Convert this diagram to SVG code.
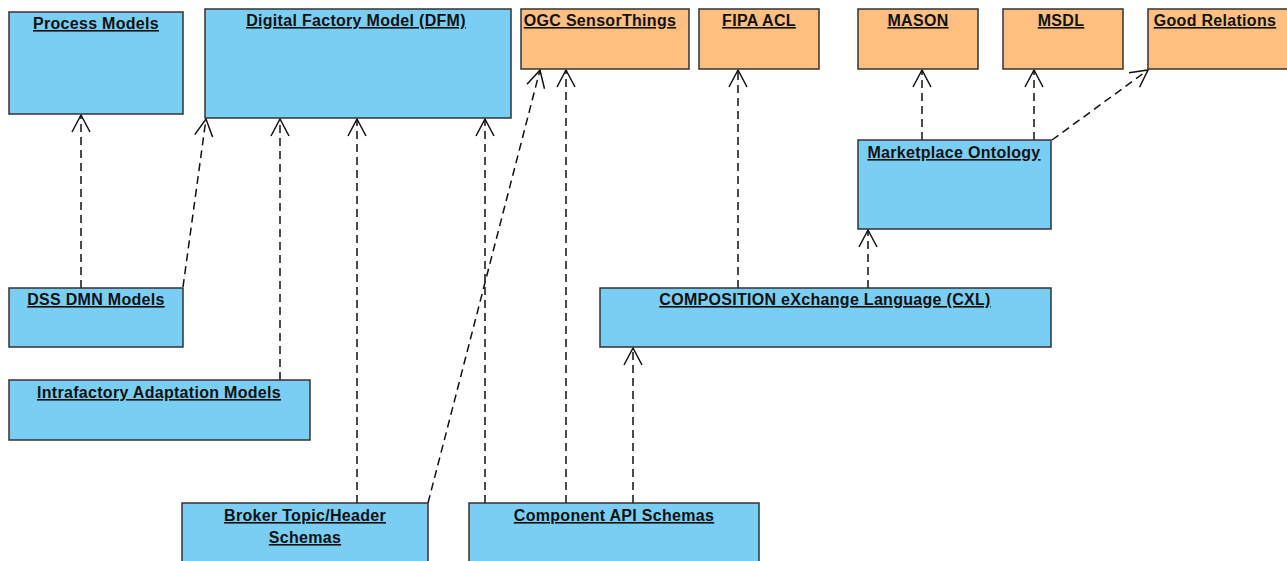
<svg xmlns="http://www.w3.org/2000/svg" width="1287" height="561" viewBox="0 0 1287 561">
  <style>
    .box { stroke: #333333; stroke-width: 1.5; }
    .blue { fill: #7acef4; }
    .orange { fill: #ffbf80; }
    .label { font-family: "Liberation Sans", Arial, sans-serif; font-size: 16px; letter-spacing: 0.3px; font-weight: bold; fill: #111111; text-anchor: middle; text-decoration: underline; }
    .dep { fill: none; stroke: #111111; stroke-width: 1.5; stroke-dasharray: 8 5; }
  </style>
  <defs>
    <marker id="open" viewBox="-20 -11 22 22" refX="0" refY="0" markerWidth="22" markerHeight="22" markerUnits="userSpaceOnUse" orient="auto">
      <path d="M -17 -9 L 0 0 L -17 9" fill="none" stroke="#111111" stroke-width="1.5" stroke-dasharray="none"/>
    </marker>
  </defs>
  <rect width="1287" height="561" fill="#ffffff"/>

  <!-- dependency connectors -->
  <g id="connectors">
    <path class="dep" d="M 81 288 L 81 115" marker-end="url(#open)"/>
    <path class="dep" d="M 183 287 L 206 119" marker-end="url(#open)"/>
    <path class="dep" d="M 280 380 L 280 119" marker-end="url(#open)"/>
    <path class="dep" d="M 357 503 L 357 119" marker-end="url(#open)"/>
    <path class="dep" d="M 428 503 L 540 70" marker-end="url(#open)"/>
    <path class="dep" d="M 485 503 L 485 119" marker-end="url(#open)"/>
    <path class="dep" d="M 566 503 L 566 70" marker-end="url(#open)"/>
    <path class="dep" d="M 633 503 L 633 348" marker-end="url(#open)"/>
    <path class="dep" d="M 738 288 L 738 70" marker-end="url(#open)"/>
    <path class="dep" d="M 868 288 L 868 230" marker-end="url(#open)"/>
    <path class="dep" d="M 922 140 L 922 70" marker-end="url(#open)"/>
    <path class="dep" d="M 1034 140 L 1034 70" marker-end="url(#open)"/>
    <path class="dep" d="M 1052 140 L 1148 70" marker-end="url(#open)"/>
  </g>

  <g id="process-models">
    <rect class="box blue" x="9" y="12" width="174" height="102"/>
    <text class="label" x="96" y="29">Process Models</text>
  </g>
  <g id="dfm">
    <rect class="box blue" x="205" y="9" width="306" height="109"/>
    <text class="label" x="356" y="26">Digital Factory Model (DFM)</text>
  </g>
  <g id="ogc-sensorthings">
    <rect class="box orange" x="521" y="9" width="168" height="60"/>
    <text class="label" x="600" y="26">OGC SensorThings</text>
  </g>
  <g id="fipa-acl">
    <rect class="box orange" x="699" y="9" width="120" height="60"/>
    <text class="label" x="759" y="26">FIPA ACL</text>
  </g>
  <g id="mason">
    <rect class="box orange" x="858" y="9" width="120" height="60"/>
    <text class="label" x="918" y="26">MASON</text>
  </g>
  <g id="msdl">
    <rect class="box orange" x="1003" y="9" width="120" height="60"/>
    <text class="label" x="1061" y="26">MSDL</text>
  </g>
  <g id="good-relations">
    <rect class="box orange" x="1148" y="9" width="145" height="60"/>
    <text class="label" x="1215" y="26">Good Relations</text>
  </g>
  <g id="marketplace-ontology">
    <rect class="box blue" x="858" y="140" width="193" height="89"/>
    <text class="label" x="954" y="158">Marketplace Ontology</text>
  </g>
  <g id="dss-dmn-models">
    <rect class="box blue" x="9" y="288" width="174" height="59"/>
    <text class="label" x="96" y="305">DSS DMN Models</text>
  </g>
  <g id="intrafactory-adaptation-models">
    <rect class="box blue" x="9" y="380" width="301" height="60"/>
    <text class="label" x="159" y="398">Intrafactory Adaptation Models</text>
  </g>
  <g id="cxl">
    <rect class="box blue" x="600" y="288" width="451" height="59"/>
    <text class="label" x="825" y="305">COMPOSITION eXchange Language (CXL)</text>
  </g>
  <g id="broker-schemas">
    <rect class="box blue" x="182" y="503" width="246" height="70"/>
    <text class="label" x="305" y="521">Broker Topic/Header</text>
    <text class="label" x="305" y="543">Schemas</text>
  </g>
  <g id="component-api-schemas">
    <rect class="box blue" x="469" y="503" width="290" height="70"/>
    <text class="label" x="614" y="521">Component API Schemas</text>
  </g>
</svg>
